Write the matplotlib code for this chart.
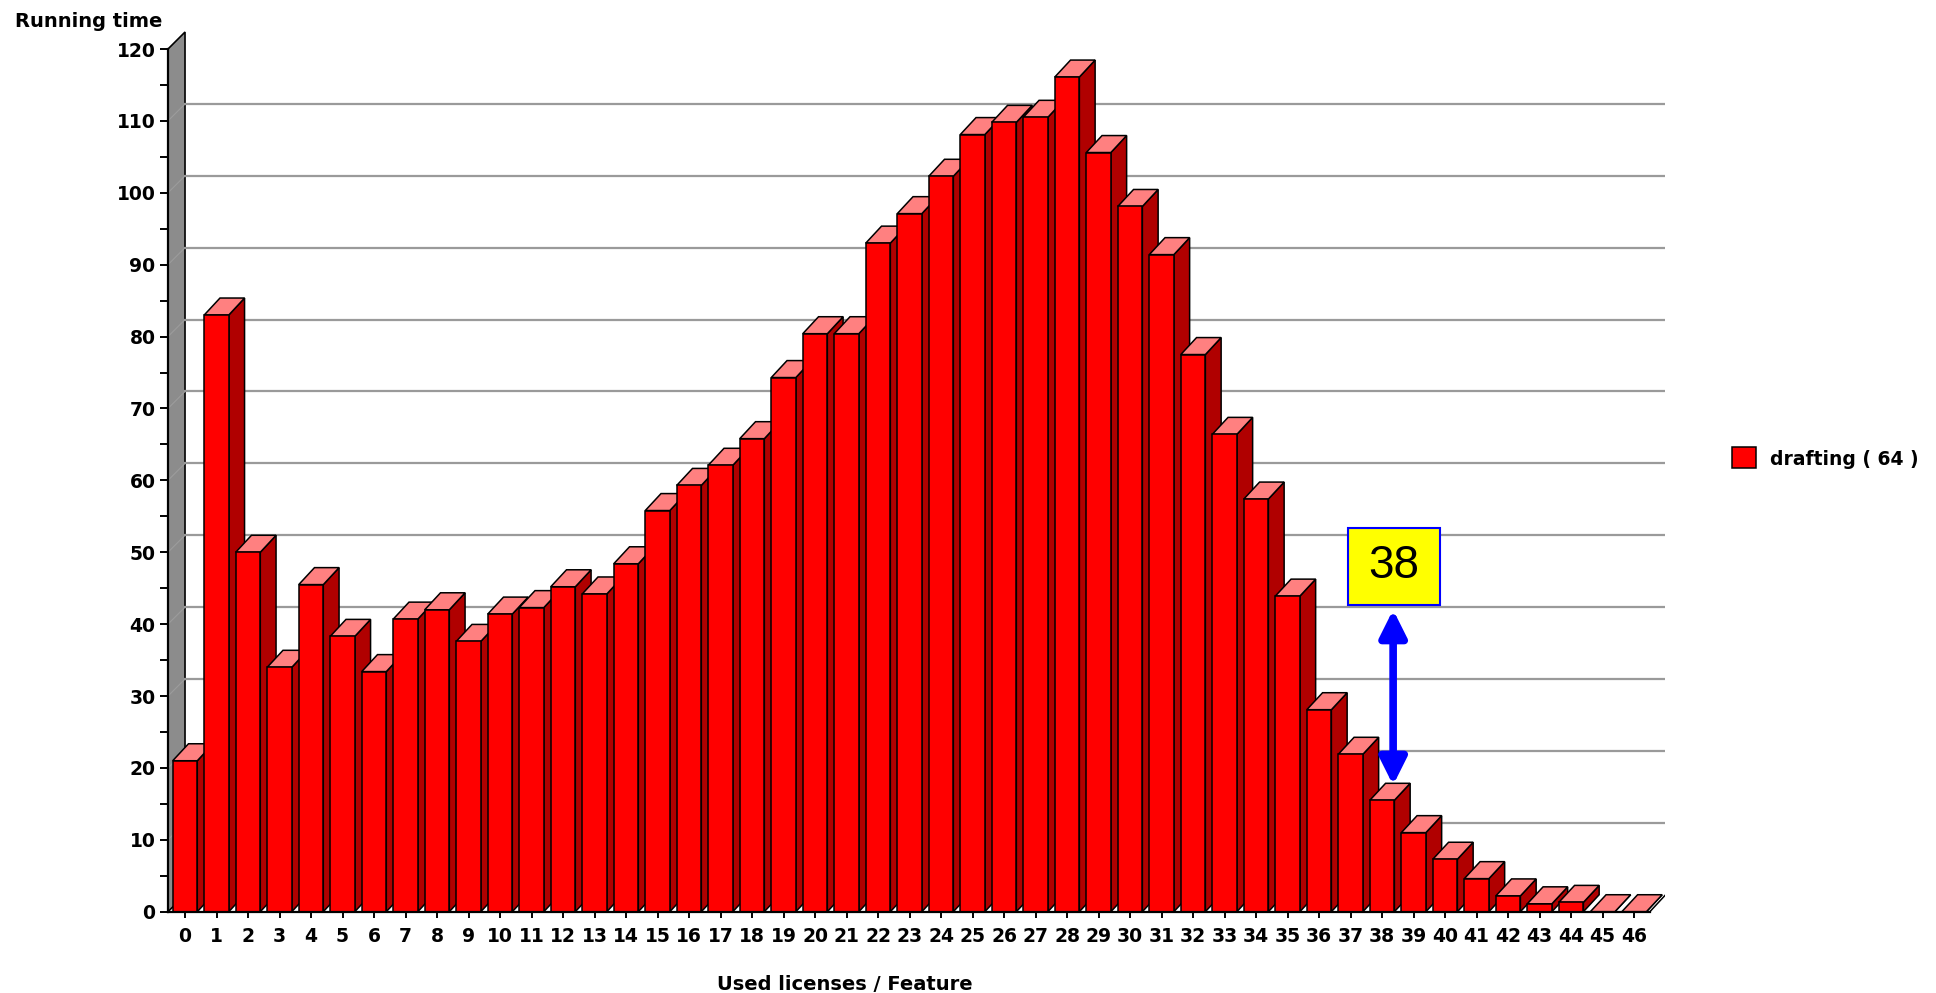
import matplotlib.pyplot as plt
from matplotlib.patches import Polygon, Rectangle, FancyArrowPatch
import numpy as np

# data
licenses = list(range(47))
running_time = [21, 83, 50, 34, 45.5, 38.3, 33.4, 40.7, 42, 37.6,
                41.4, 42.3, 45.2, 44.2, 48.4, 55.8, 59.3, 62.1, 65.8, 74.3,
                80.4, 80.4, 93, 97.1, 102.3, 108.1, 109.8, 110.5, 116.1, 105.6,
                98.1, 91.4, 77.5, 66.4, 57.4, 43.9, 28.1, 21.9, 15.5, 11.0,
                7.3, 4.6, 2.2, 1.1, 1.3, 0.0, 0.0]
series_name = "drafting ( 64 )"
marked_license = 38
marked_label = "38"

W, H = 1936, 993
fig = plt.figure(figsize=(W / 100, H / 100), dpi=100)
plt.rcParams['font.family'] = ['DejaVu Sans']

x_left, x_right = -0.54, 46.98
ax = fig.add_axes([168 / W, (H - 911.7) / H, (1665 - 168) / W, (911.7 - 49) / H])
ax.set_xlim(x_left, x_right)
ax.set_ylim(0, 120)

dx, dy = 0.5, 2.36      # depth offset in data units
bw = 0.78               # bar front width

# back wall on the left
wall = Polygon([(x_left, 0), (x_left, 120), (0, 120 + dy), (0, dy)],
               closed=True, facecolor='#8c8c8c', edgecolor='black', lw=1.2,
               zorder=1, clip_on=False)
ax.add_patch(wall)
for v in range(10, 120, 10):
    ax.plot([x_left, 0], [v, v + dy], color='#9c9c9c', lw=0.8, zorder=1.5, clip_on=False)
    ax.plot([0, x_right], [v + dy, v + dy], color='#9a9a9a', lw=1.6, zorder=1)

# bars
for k, v in zip(licenses, running_time):
    l, r = k - bw / 2, k + bw / 2
    side = Polygon([(r, 0), (r + dx, dy), (r + dx, v + dy), (r, v)], closed=True,
                   facecolor='#b00000', edgecolor='black', lw=1.1, zorder=3 + k * 0.01)
    top = Polygon([(l, v), (l + dx, v + dy), (r + dx, v + dy), (r, v)], closed=True,
                  facecolor='#ff8080', edgecolor='black', lw=1.1, zorder=3 + k * 0.01)
    front = Rectangle((l, 0), bw, v, facecolor='#ff0000', edgecolor='black',
                      lw=1.1, zorder=3 + k * 0.01)
    ax.add_patch(side)
    ax.add_patch(top)
    ax.add_patch(front)

# floor right end
ax.plot([46.5, 46.5 + dx], [0, dy], color='black', lw=1.1, zorder=2)

for s in ['top', 'right']:
    ax.spines[s].set_visible(False)
ax.spines['left'].set_position(('data', x_left))
ax.spines['left'].set_linewidth(1.6)
ax.spines['bottom'].set_linewidth(1.6)
ax.spines['bottom'].set_bounds(x_left, 46.5)
ax.spines['left'].set_zorder(6)
ax.spines['bottom'].set_zorder(6)

ax.set_yticks(np.arange(0, 121, 10))
ax.set_yticks(np.arange(5, 120, 10), minor=True)
ax.set_xticks(licenses)
ax.set_xticklabels([str(k) for k in licenses])
ax.tick_params(axis='y', which='both', direction='out', length=6, width=1.4, pad=3,
               labelsize=13.5)
ax.tick_params(axis='x', direction='out', length=4, width=1.4, pad=7, labelsize=13.5)
for lab in ax.get_xticklabels() + ax.get_yticklabels():
    lab.set_fontweight('bold')

# annotation box with double arrow
bx0, bx1 = 36.92, 39.84
by0, by1 = 42.7, 53.4
ax.add_patch(Rectangle((bx0, by0), bx1 - bx0, by1 - by0, facecolor='#ffff00',
                       edgecolor='#0000ff', lw=1.5, zorder=8))
ax.text((bx0 + bx1) / 2, (by0 + by1) / 2, marked_label, ha='center', va='center',
        fontsize=33, family='Liberation Sans', zorder=9)
arrow = FancyArrowPatch((marked_license + 0.35, 42.0),
                        (marked_license + 0.35, running_time[marked_license] + 2.1),
                        arrowstyle='<|-|>,head_length=0.8,head_width=0.4',
                        mutation_scale=20, color='#0000ff', lw=5.5,
                        shrinkA=0, shrinkB=0, zorder=9)
ax.add_patch(arrow)

# axis titles
fig.text(15 / W, 1 - 27 / H, "Running time", ha='left', va='baseline',
         fontsize=14, fontweight='bold')
fig.text(845 / W, 3 / H, "Used licenses / Feature", ha='center', va='baseline',
         fontsize=14, fontweight='bold')

# legend
fig.patches.append(Rectangle((1732 / W, 1 - 468 / H), 24 / W, 21 / H,
                             transform=fig.transFigure, facecolor='#ff0000',
                             edgecolor='black', lw=1.1))
fig.text(1770 / W, 1 - 465 / H, series_name, ha='left', va='baseline',
         fontsize=13.5, fontweight='bold')

fig.savefig('out.png', dpi=100)
